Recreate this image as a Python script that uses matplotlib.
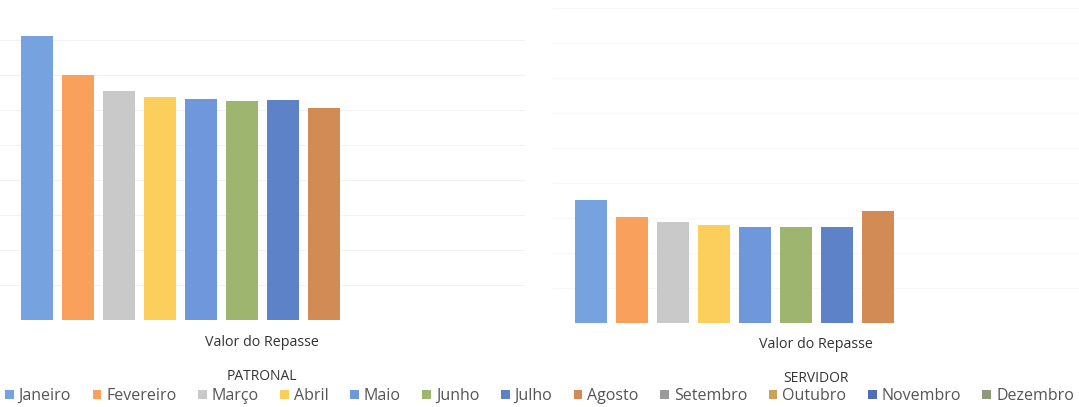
import matplotlib.pyplot as plt
from matplotlib.patches import Patch

meses = ["Janeiro", "Fevereiro", "Março", "Abril", "Maio", "Junho",
         "Julho", "Agosto", "Setembro", "Outubro", "Novembro", "Dezembro"]
cores = ["#76a2e0", "#f8a05c", "#c9c9c9", "#fccf5c", "#6f98dc", "#9db56e",
         "#5d82c8", "#d38b55", "#9a9a9a", "#cda15a", "#4f6fb5", "#8e9b78"]

# valores estimados (escala relativa, sem eixo no original); Set-Dez sem dados
patronal = [284, 245, 229, 223, 221, 219, 220, 212, None, None, None, None]
servidor = [123, 106, 101, 98, 96, 96, 96, 112, None, None, None, None]

W, H = 1079, 407
plt.rcParams["font.family"] = ["Open Sans", "DejaVu Sans"]
fig = plt.figure(figsize=(W / 100, H / 100), dpi=100)
fig.patch.set_facecolor("white")


def desenhar(ax, valores, xlim, ylim, grade):
    for i, v in enumerate(valores):
        if v is None:
            continue
        ax.bar(i, v, width=0.79, color=cores[i], zorder=2)
    ax.set_xlim(*xlim)
    ax.set_ylim(*ylim)
    ax.set_yticks(range(0, int(ylim[1]), 35))
    ax.grid(axis="y", color=grade, linewidth=0.8, zorder=0)
    ax.set_xticks([])
    ax.tick_params(left=False, labelleft=False)
    for s in ax.spines.values():
        s.set_visible(False)


# painel esquerdo: pixels 0..525, base em y=320
ax1 = fig.add_axes([0 / W, (H - 320) / H, 525 / W, 315 / H])
desenhar(ax1, patronal, (-0.902, 11.902), (0, 315), "#f2f2f2")

# painel direito: pixels 553..1080, base em y=323
ax2 = fig.add_axes([553 / W, (H - 323) / H, 527 / W, 318 / H])
desenhar(ax2, servidor, (-0.927, 11.927), (0, 318), "#f7f7f7")

txt = "#333333"
fig.text(262 / W, 1 - 343 / H, "Valor do Repasse", ha="center", va="center",
         fontsize=10.3, color=txt)
fig.text(816 / W, 1 - 345 / H, "Valor do Repasse", ha="center", va="center",
         fontsize=10.3, color=txt)
fig.text(262 / W, 1 - 376 / H, "PATRONAL", ha="center", va="center",
         fontsize=10, color=txt)
fig.text(816 / W, 1 - 378 / H, "SERVIDOR", ha="center", va="center",
         fontsize=10, color=txt)

handles = [Patch(facecolor=c, edgecolor="none") for c in cores]
fig.legend(handles, meses, loc="center", bbox_to_anchor=(0.5, 1 - 396 / H),
           ncol=12, frameon=False, fontsize=11.5, handlelength=0.55,
           handleheight=0.55, handletextpad=0.3, columnspacing=1.35,
           labelcolor="#555555")

fig.savefig("out.png", dpi=100, facecolor="white")
